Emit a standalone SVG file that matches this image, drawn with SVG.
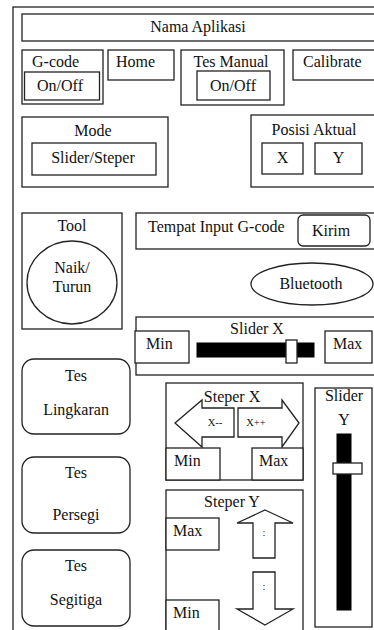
<svg xmlns="http://www.w3.org/2000/svg" width="374" height="630" viewBox="0 0 374 630">
<style>
.b{fill:#fff;stroke:#222;stroke-width:1.3}
.t{font-family:'Liberation Serif','DejaVu Serif',serif;font-size:16px;fill:#111}
.c{text-anchor:middle}
.s{font-size:10.5px}
.k{fill:#000;stroke:#000}
</style>
<rect x="0" y="0" width="374" height="630" fill="#fff"/>
<g id="frame"><rect class="b" x="13" y="7" width="380" height="640"/></g>
<g id="nama"><rect class="b" x="22" y="14" width="370" height="27"/><text class="t c" x="198" y="32">Nama Aplikasi</text></g>
<g id="gcode"><rect class="b" x="22" y="50" width="81" height="54"/><text class="t" x="32" y="67">G-code</text><rect class="b" x="24.5" y="72" width="75" height="28"/><text class="t c" x="60" y="91">On/Off</text></g>
<g id="home"><rect class="b" x="108" y="50" width="66" height="30"/><text class="t" x="116" y="67">Home</text></g>
<g id="tesmanual"><rect class="b" x="181" y="50" width="103" height="55"/><text class="t c" x="231" y="67">Tes Manual</text><rect class="b" x="197" y="71" width="73" height="29"/><text class="t c" x="233" y="91">On/Off</text></g>
<g id="calibrate"><rect class="b" x="293" y="50" width="100" height="30"/><text class="t" x="303" y="67">Calibrate</text></g>
<g id="mode"><rect class="b" x="22" y="117" width="146" height="70"/><text class="t c" x="93" y="136">Mode</text><rect class="b" x="32" y="143" width="124" height="32"/><text class="t c" x="93" y="163">Slider/Steper</text></g>
<g id="posisi"><rect class="b" x="251" y="115" width="140" height="72"/><text class="t c" x="314" y="135">Posisi Aktual</text><rect class="b" x="262" y="143" width="41" height="31"/><text class="t c" x="282.5" y="163">X</text><rect class="b" x="315" y="143" width="47" height="31"/><text class="t c" x="338.5" y="163">Y</text></g>
<g id="tool"><rect class="b" x="22" y="213" width="100" height="116"/><text class="t c" x="72" y="231">Tool</text><ellipse class="b" cx="72" cy="282.5" rx="45" ry="41.5"/><text class="t c" x="72" y="273">Naik/</text><text class="t c" x="72" y="292">Turun</text></g>
<g id="input"><rect class="b" x="136" y="213" width="250" height="36"/><text class="t" x="148" y="232">Tempat Input G-code</text><rect class="b" x="298" y="215" width="72" height="31" rx="5"/><text class="t c" x="331" y="236">Kirim</text></g>
<g id="bluetooth"><ellipse class="b" cx="312" cy="284" rx="61" ry="21"/><text class="t c" x="311" y="289">Bluetooth</text></g>
<g id="sliderx"><rect class="b" x="136" y="317" width="250" height="58"/><text class="t c" x="257" y="334">Slider X</text><rect class="b" x="135" y="331" width="54" height="32"/><text class="t" x="146" y="349">Min</text><rect class="k" x="197" y="343" width="117" height="14"/><rect class="b" x="286" y="340" width="11" height="23"/><rect class="b" x="325" y="331" width="47" height="32"/><text class="t" x="333" y="349">Max</text></g>
<g id="teslingkaran"><rect class="b" x="22" y="359" width="108" height="75" rx="12"/><text class="t c" x="76" y="381">Tes</text><text class="t c" x="76" y="415">Lingkaran</text></g>
<g id="tespersegi"><rect class="b" x="22" y="457" width="108" height="76" rx="12"/><text class="t c" x="76" y="478">Tes</text><text class="t c" x="76" y="520">Persegi</text></g>
<g id="tessegitiga"><rect class="b" x="22" y="550" width="108" height="76" rx="12"/><text class="t c" x="76" y="571">Tes</text><text class="t c" x="76" y="605">Segitiga</text></g>
<g id="steperx"><rect class="b" x="166" y="383" width="137" height="97"/><text class="t c" x="232" y="402">Steper X</text>
<polygon class="b" points="175,423 202,400 202,408 234,408 234,437 202,437 202,447"/><text class="t c s" x="215" y="426">X--</text>
<polygon class="b" points="299,423 282,400 282,408 238,408 238,437 282,437 282,447"/><text class="t c s" x="256" y="426">X++</text>
<rect class="b" x="166" y="448" width="54" height="32"/><text class="t" x="174" y="466">Min</text><rect class="b" x="252" y="448" width="51" height="32"/><text class="t" x="259" y="466">Max</text></g>
<g id="stepery"><rect class="b" x="166" y="490" width="137" height="150"/><text class="t c" x="232" y="507">Steper Y</text><rect class="b" x="166" y="518" width="53" height="32"/><text class="t" x="173" y="536">Max</text>
<polygon class="b" points="265,510 293,523 275,523 275,558 253,558 253,523 237,523"/><text class="t c s" x="264" y="536">:</text>
<polygon class="b" points="265,625 293,609 275,609 275,572 253,572 253,609 237,609"/><text class="t c s" x="264" y="590">:</text>
<rect class="b" x="166" y="600" width="53" height="40"/><text class="t" x="173" y="618">Min</text></g>
<g id="slidery"><rect class="b" x="315" y="388" width="57" height="239"/><text class="t c" x="344" y="401">Slider</text><text class="t c" x="344" y="425">Y</text><rect class="k" x="337" y="434" width="14" height="176"/><rect class="b" x="333" y="463" width="29" height="11"/></g>
</svg>
